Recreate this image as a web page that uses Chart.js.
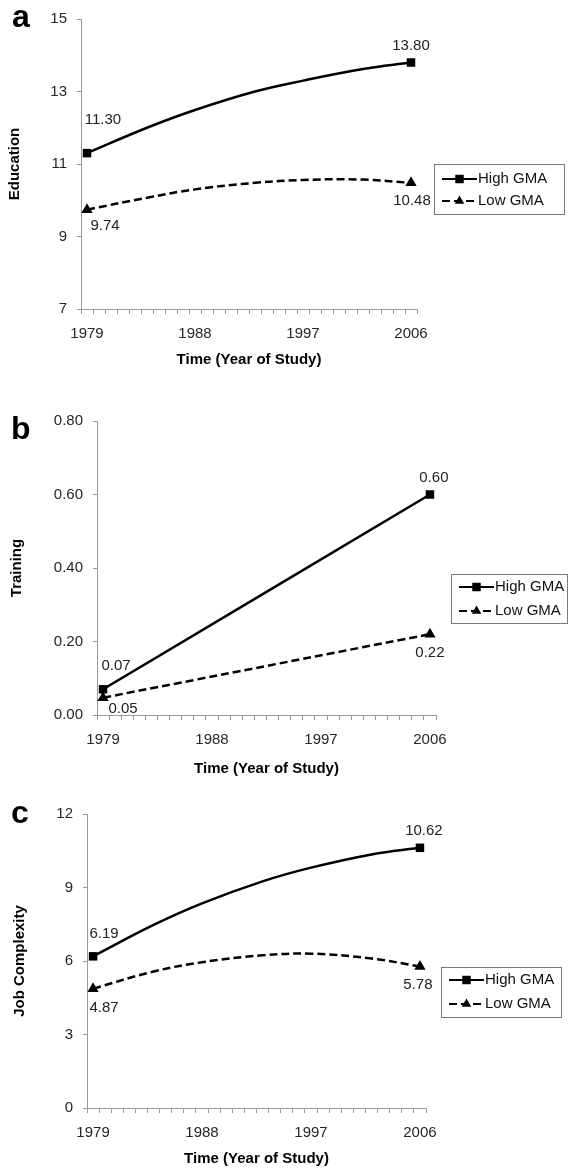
<!DOCTYPE html>
<html>
<head>
<meta charset="utf-8">
<script src="https://cdn.jsdelivr.net/npm/chart.js@4.4.1/dist/chart.umd.min.js"></script>
<style>
  html, body { margin: 0; padding: 0; background: #fff; }
  body { width: 568px; height: 1168px; position: relative; overflow: hidden; }
  canvas { position: absolute; left: 0; }
</style>
</head>
<body>
<canvas id="chartA" width="568" height="380" style="top:0px"></canvas>
<canvas id="chartB" width="568" height="400" style="top:380px"></canvas>
<canvas id="chartC" width="568" height="388" style="top:780px"></canvas>
<script>
// categories (one per year, as in the original category axis)
var years = [1979, 1980, 1981, 1982, 1983, 1984, 1985, 1986, 1987, 1988, 1989, 1990, 1991, 1992,
             1993, 1994, 1995, 1996, 1997, 1998, 1999, 2000, 2001, 2002, 2003, 2004, 2005, 2006];
var shownYears = [1979, 1988, 1997, 2006];
var seriesNames = ['High GMA', 'Low GMA'];

// values (endpoints are the printed values)
var curveYears = [1979, 1984, 1988, 1993, 1997, 2002, 2006];
var educationHigh = [11.30, 12.00, 12.49, 13.00, 13.30, 13.62, 13.80];
var educationLow = [9.74, 10.07, 10.30, 10.48, 10.56, 10.57, 10.48];

var trainingYears = [1979, 2006];
var trainingHigh = [0.07, 0.60];
var trainingLow = [0.047, 0.22];

var complexityHigh = [6.19, 7.47, 8.35, 9.25, 9.81, 10.35, 10.62];
var complexityLow = [4.87, 5.57, 5.95, 6.23, 6.30, 6.10, 5.78];

// y axis ticks
var educationTicks = [7, 9, 11, 13, 15];
var trainingTicks = [0, 0.2, 0.4, 0.6, 0.8];
var complexityTicks = [0, 3, 6, 9, 12];

var FONT = '"Liberation Sans", Arial, sans-serif';
var AXIS_GRAY = '#9a9a9a';
var yearLabels = years.map(String);

function pairUp(xs, ys) {
  return xs.map(function(x, i) { return { x: String(x), y: ys[i] }; });
}

function drawMarker(ctx, style, x, y, r) {
  ctx.fillStyle = '#000';
  ctx.beginPath();
  if (style === 'rect') {
    var s = r * Math.SQRT1_2;
    ctx.rect(x - s, y - s, 2 * s, 2 * s);
  } else {
    ctx.moveTo(x, y - r);
    ctx.lineTo(x + r * 0.866, y + r * 0.5);
    ctx.lineTo(x - r * 0.866, y + r * 0.5);
    ctx.closePath();
  }
  ctx.fill();
}

var panelDecor = {
  id: 'panelDecor',
  afterDatasetsDraw: function(chart, args, opts) {
    var ctx = chart.ctx;
    ctx.save();

    // end point values
    ctx.font = '15px ' + FONT;
    ctx.fillStyle = '#222';
    ctx.textAlign = 'center';
    ctx.textBaseline = 'middle';
    chart.data.datasets.forEach(function(ds, i) {
      var meta = chart.getDatasetMeta(i);
      var last = meta.data.length - 1;
      [0, last].forEach(function(j, k) {
        var pt = meta.data[j];
        var off = opts.labelOffsets[i][k];
        ctx.fillText(ds.data[j].y.toFixed(2), pt.x + off[0], pt.y + off[1]);
      });
    });

    // boxed legend
    var lg = opts.legend;
    ctx.strokeStyle = '#7a7a7a';
    ctx.lineWidth = 1;
    ctx.strokeRect(lg.x + 0.5, lg.y + 0.5, lg.w, lg.h);
    chart.data.datasets.forEach(function(ds, i) {
      var cy = lg.y + lg.rows[i];
      var x0 = lg.x + 8, x1 = lg.x + 43;
      ctx.strokeStyle = '#000';
      ctx.lineWidth = 2;
      ctx.setLineDash(ds.borderDash || []);
      ctx.beginPath();
      ctx.moveTo(x0, cy);
      ctx.lineTo(x1, cy);
      ctx.stroke();
      ctx.setLineDash([]);
      drawMarker(ctx, ds.pointStyle, (x0 + x1) / 2, cy, ds.pointStyle === 'rect' ? 6 : 5.5);
      ctx.fillStyle = '#111';
      ctx.textAlign = 'left';
      ctx.textBaseline = 'middle';
      ctx.font = '15px ' + FONT;
      ctx.fillText(ds.label, x1 + 1, cy);
    });

    // panel letter
    ctx.font = 'bold 32px ' + FONT;
    ctx.fillStyle = '#000';
    ctx.textAlign = 'left';
    ctx.textBaseline = 'alphabetic';
    ctx.fillText(opts.letter, opts.letterX, opts.letterY);
    ctx.restore();
  }
};

function endpointRadius(r) {
  return function(c) {
    var x = c.raw && c.raw.x;
    return (x === '1979' || x === '2006') ? r : 0;
  };
}

function makeChart(id, cfg) {
  var ctx = document.getElementById(id).getContext('2d');
  var tickVals = cfg.ticks;
  return new Chart(ctx, {
    type: 'line',
    data: {
      labels: yearLabels,
      datasets: [{
        label: seriesNames[0],
        data: pairUp(cfg.xs, cfg.high),
        borderColor: '#000',
        borderWidth: 2.5,
        tension: 0.4,
        pointStyle: 'rect',
        pointRadius: endpointRadius(6),
        pointBackgroundColor: '#000',
        pointBorderColor: '#000',
        pointBorderWidth: 0
      }, {
        label: seriesNames[1],
        data: pairUp(cfg.xs, cfg.low),
        borderColor: '#000',
        borderWidth: 2.5,
        borderDash: [8, 4],
        tension: 0.4,
        pointStyle: 'triangle',
        pointRadius: endpointRadius(6.5),
        pointBackgroundColor: '#000',
        pointBorderColor: '#000',
        pointBorderWidth: 0
      }]
    },
    options: {
      responsive: false,
      animation: false,
      events: [],
      layout: { padding: cfg.padding },
      plugins: {
        legend: { display: false },
        tooltip: { enabled: false },
        panelDecor: cfg.decor
      },
      scales: {
        x: {
          type: 'category',
          offset: true,
          grid: { display: true, drawOnChartArea: false, drawTicks: true, tickLength: 5, color: AXIS_GRAY, offset: true },
          border: { display: true, color: AXIS_GRAY, width: 1 },
          ticks: {
            autoSkip: false, maxRotation: 0, minRotation: 0, padding: 11,
            color: '#262626', font: { family: FONT, size: 15 },
            callback: function(v, i) { return shownYears.indexOf(years[i]) >= 0 ? yearLabels[i] : ''; }
          },
          title: {
            display: true, text: 'Time (Year of Study)', color: '#000',
            font: { family: FONT, size: 15, weight: 'bold' }, padding: { top: 0, bottom: 0 }
          },
          afterFit: function(s) { s.height = cfg.xAxisHeight; }
        },
        y: {
          min: tickVals[0],
          max: tickVals[tickVals.length - 1],
          afterBuildTicks: function(s) { s.ticks = tickVals.map(function(v) { return { value: v }; }); },
          grid: { display: true, drawOnChartArea: false, drawTicks: true, tickLength: 4, color: AXIS_GRAY },
          border: { display: true, color: AXIS_GRAY, width: 1 },
          ticks: {
            padding: 10, color: '#262626', font: { family: FONT, size: 15 },
            callback: function(v) { return Number(v).toFixed(cfg.decimals); }
          },
          title: {
            display: true, text: cfg.yTitle, color: '#000',
            font: { family: FONT, size: 15, weight: 'bold' }, padding: { top: cfg.yTitlePad, bottom: 0 }
          },
          afterFit: function(s) { s.width = cfg.yAxisWidth; }
        }
      }
    },
    plugins: [panelDecor]
  });
}

makeChart('chartA', {
  xs: curveYears, high: educationHigh, low: educationLow,
  ticks: educationTicks, decimals: 0, yTitle: 'Education', yTitlePad: 6,
  yAxisWidth: 81, xAxisHeight: 60,
  padding: { left: 0, top: 13, right: 151, bottom: 11 },
  decor: {
    letter: 'a', letterX: 12, letterY: 27,
    legend: { x: 434, y: 164, w: 130, h: 50, rows: [15, 37] },
    labelOffsets: [[[16, -33], [0, -17]], [[18, 16], [1, 18]]]
  }
});

makeChart('chartB', {
  xs: trainingYears, high: trainingHigh, low: trainingLow,
  ticks: trainingTicks, decimals: 2, yTitle: 'Training', yTitlePad: 8,
  yAxisWidth: 97, xAxisHeight: 63,
  padding: { left: 0, top: 41, right: 132, bottom: 2 },
  decor: {
    letter: 'b', letterX: 11, letterY: 59,
    legend: { x: 451, y: 194, w: 116, h: 49, rows: [13, 37] },
    labelOffsets: [[[13, -23], [4, -17]], [[20, 11], [0, 19]]]
  }
});

makeChart('chartC', {
  xs: curveYears, high: complexityHigh, low: complexityLow,
  ticks: complexityTicks, decimals: 0, yTitle: 'Job Complexity', yTitlePad: 11,
  yAxisWidth: 87, xAxisHeight: 60,
  padding: { left: 0, top: 34, right: 142, bottom: 0 },
  decor: {
    letter: 'c', letterX: 11, letterY: 43,
    legend: { x: 441, y: 187, w: 120, h: 50, rows: [13, 37] },
    labelOffsets: [[[11, -22], [4, -17]], [[11, 19], [-2, 18]]]
  }
});
</script>
</body>
</html>
